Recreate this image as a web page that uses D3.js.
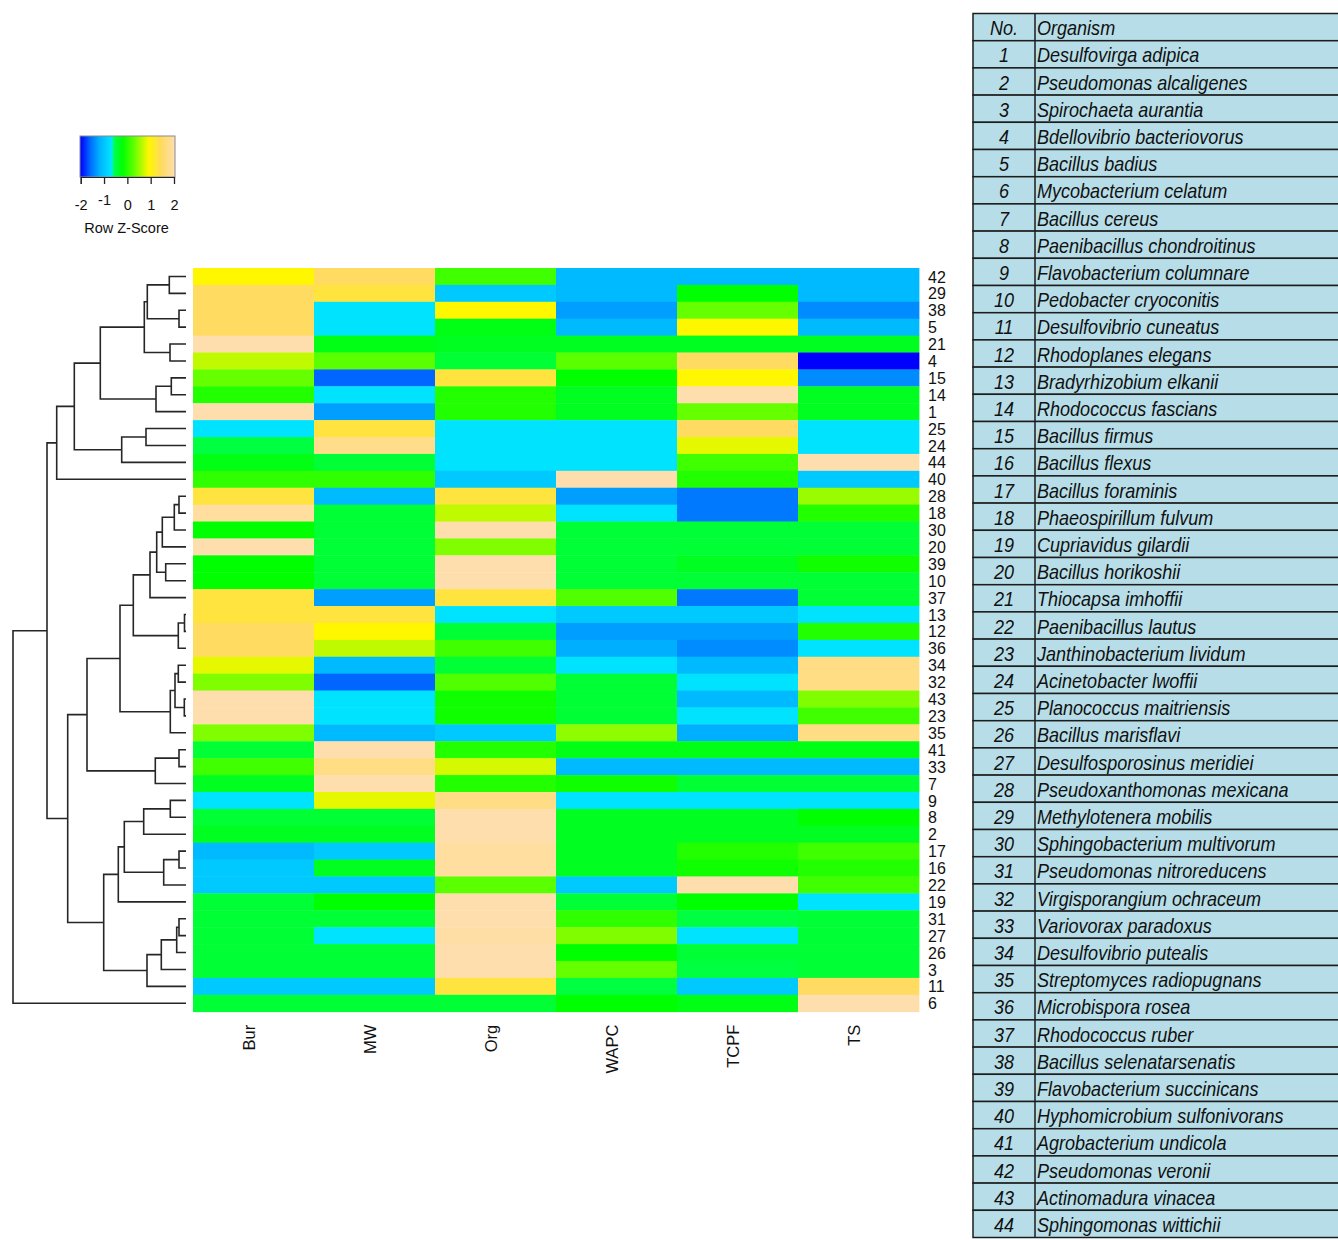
<!DOCTYPE html>
<html>
<head>
<meta charset="utf-8">
<script src="https://cdn.jsdelivr.net/npm/d3@7"></script>
<style>
  body { margin: 0; background: #fff; }
  svg { display: block; }
  text { font-family: "Liberation Sans", Arial, sans-serif; }
</style>
</head>
<body>
<svg id="chart" width="1338" height="1240"></svg>
<script>
// Measured variables (heatmap columns)
const variables = ["Bur", "MW", "Org", "WAPC", "TCPF", "TS"];

// Row z-scores per organism number (Bur, MW, Org, WAPC, TCPF, TS)
const rowIds = [42, 29, 38, 5, 21, 4, 15, 14, 1, 25, 24, 44, 40, 28, 18, 30, 20, 39, 10, 37,
                13, 12, 36, 34, 32, 43, 23, 35, 41, 33, 7, 9, 8, 2, 17, 16, 22, 19, 31, 27, 26, 3, 11, 6];
const zScores = [
  [0.9, 1.45, 0.11, -1.1, -1.1, -1.1],
  [1.45, 1.25, -0.95, -1.1, -0.2, -1.1],
  [1.45, -0.7, 0.9, -1.3, 0.3, -1.4],
  [1.45, -0.7, -0.3, -1.1, 0.9, -1.1],
  [2.0, -0.3, -0.35, -0.35, -0.35, -0.35],
  [0.65, 0.24, -0.45, 0.24, 1.45, -2.0],
  [0.3, -1.6, 1.25, -0.2, 0.9, -1.4],
  [-0.04, -0.7, -0.04, -0.35, 2.0, -0.35],
  [2.0, -1.3, -0.04, -0.35, 0.3, -0.35],
  [-0.7, 1.25, -0.7, -0.7, 1.45, -0.7],
  [-0.5, 1.75, -0.7, -0.7, 0.8, -0.7],
  [-0.3, -0.45, -0.7, -0.7, 0.11, 2.0],
  [0.03, 0.03, -0.95, 2.0, -0.04, -0.95],
  [1.25, -1.1, 1.25, -1.3, -1.5, 0.5],
  [1.9, -0.45, 0.65, -0.7, -1.5, -0.04],
  [-0.2, -0.45, 2.0, -0.45, -0.45, -0.45],
  [2.0, -0.45, 0.4, -0.45, -0.45, -0.45],
  [-0.2, -0.45, 2.0, -0.45, -0.35, -0.12],
  [-0.2, -0.45, 2.0, -0.45, -0.45, -0.45],
  [1.25, -1.3, 1.25, 0.19, -1.5, -0.45],
  [1.25, 1.25, -0.7, -0.95, -0.95, -0.7],
  [1.45, 0.9, -0.45, -1.3, -1.3, -0.04],
  [1.45, 0.65, 0.11, -1.2, -1.4, -0.7],
  [0.8, -1.1, -0.45, -0.7, -1.1, 1.7],
  [0.4, -1.6, 0.19, -0.45, -0.7, 1.7],
  [2.0, -0.7, -0.12, -0.45, -1.1, 0.4],
  [2.0, -0.7, -0.12, -0.45, -0.7, 0.11],
  [0.4, -1.1, -0.95, 0.46, -1.2, 1.7],
  [-0.45, 2.0, -0.04, -0.3, -0.3, -0.3],
  [0.11, 1.7, 0.73, -1.1, -1.1, -1.1],
  [-0.35, 2.0, -0.04, -0.12, -0.45, -0.45],
  [-0.7, 0.8, 1.7, -0.7, -0.7, -0.7],
  [-0.45, -0.45, 2.0, -0.35, -0.35, -0.2],
  [-0.35, -0.35, 2.0, -0.35, -0.35, -0.35],
  [-1.1, -0.95, 1.9, -0.35, -0.04, 0.11],
  [-0.95, -0.35, 1.9, -0.35, -0.12, -0.04],
  [-0.95, -0.95, 0.24, -0.95, 2.0, 0.11],
  [-0.45, -0.2, 2.0, -0.45, -0.2, -0.7],
  [-0.45, -0.45, 2.0, 0.03, -0.5, -0.45],
  [-0.45, -0.7, 1.95, 0.4, -0.7, -0.45],
  [-0.45, -0.45, 2.0, -0.2, -0.45, -0.45],
  [-0.45, -0.45, 2.0, 0.3, -0.5, -0.45],
  [-0.95, -0.95, 1.25, -0.5, -0.95, 1.45],
  [-0.45, -0.45, -0.45, -0.2, -0.3, 2.0]
];

// Row dendrogram: [merge height, left, right]; leaves are organism numbers
const dendrogram =
  [173,
    [139,
      [129.3,
        [111.7,
          [85.7,
            [41.7, [38.7, [16.7, 42, 29], [7, 38, 5]], [16, 21, 4]],
            [30, [14.7, 15, 14], 1]],
          [64.3, [40, 25, 24], 44]],
        40],
      [118.3,
        [99,
          [66,
            [52.7,
              [36, [29.3, [23.7, [11.7, [7, 28, 18], 30], 20], [20.3, 39, 10]], 37],
              [7.7, [1.5, 13, 12], 36]],
            [15.7, [11, [7.7, 34, 32], [1.7, 43, 23]], 35]],
          [30.7, [7, 41, 33], 7]],
        [82.3,
          [67.7,
            [61.7, [42.3, [15.7, 9, 8], 2], [22.3, [7, 17, 16], 22]],
            19],
          [39, [24.7, [9.3, [7, 31, 27], 26], 3], 11]]]],
    6];

// Colour key
const keyTicks = [-2, -1, 0, 1, 2];
const zStops = [-2, -1.6, -1.2, -0.65, -0.6, -0.2, 0.3, 0.9, 1.4, 2];
const zColors = ["#0000ff", "#0066ff", "#00b0ff", "#00e8ff", "#00ff55", "#00ff00",
                 "#66ff00", "#fff700", "#ffdb5a", "#ffdead"];

// Organism legend table
const organisms = [
  "Desulfovirga adipica", "Pseudomonas alcaligenes", "Spirochaeta aurantia",
  "Bdellovibrio bacteriovorus", "Bacillus badius", "Mycobacterium celatum",
  "Bacillus cereus", "Paenibacillus chondroitinus", "Flavobacterium columnare",
  "Pedobacter cryoconitis", "Desulfovibrio cuneatus", "Rhodoplanes elegans",
  "Bradyrhizobium elkanii", "Rhodococcus fascians", "Bacillus firmus",
  "Bacillus flexus", "Bacillus foraminis", "Phaeospirillum fulvum",
  "Cupriavidus gilardii", "Bacillus horikoshii", "Thiocapsa imhoffii",
  "Paenibacillus lautus", "Janthinobacterium lividum", "Acinetobacter lwoffii",
  "Planococcus maitriensis", "Bacillus marisflavi", "Desulfosporosinus meridiei",
  "Pseudoxanthomonas mexicana", "Methylotenera mobilis", "Sphingobacterium multivorum",
  "Pseudomonas nitroreducens", "Virgisporangium ochraceum", "Variovorax paradoxus",
  "Desulfovibrio putealis", "Streptomyces radiopugnans", "Microbispora rosea",
  "Rhodococcus ruber", "Bacillus selenatarsenatis", "Flavobacterium succinicans",
  "Hyphomicrobium sulfonivorans", "Agrobacterium undicola", "Pseudomonas veronii",
  "Actinomadura vinacea", "Sphingomonas wittichii"
];

const svg = d3.select("#chart");
const color = d3.scaleLinear().domain(zStops).range(zColors)
  .interpolate(d3.interpolateRgb).clamp(true);

// ---- heatmap ----
const hm = { left: 193, right: 919, top: 268, bottom: 1011.7 };
const root = d3.hierarchy(dendrogram, d => Array.isArray(d) ? d.slice(1) : null);
const leafOrder = root.leaves().map(l => l.data);
const x = d3.scaleBand().domain(variables).range([hm.left, hm.right]);
const y = d3.scaleBand().domain(leafOrder).range([hm.top, hm.bottom]);
const zById = new Map(rowIds.map((id, i) => [id, zScores[i]]));

const cells = [];
leafOrder.forEach(id => {
  zById.get(id).forEach((v, j) => cells.push({ id, variable: variables[j], v }));
});
svg.append("g").selectAll("rect").data(cells).join("rect")
  .attr("x", d => x(d.variable))
  .attr("y", d => y(d.id))
  .attr("width", x.bandwidth() + 0.4)
  .attr("height", y.bandwidth() + 0.4)
  .attr("fill", d => color(d.v));

// row labels
svg.append("g").selectAll("text").data(leafOrder).join("text")
  .attr("x", hm.right + 9)
  .attr("y", d => y(d) + y.bandwidth() / 2)
  .attr("dy", "0.38em")
  .attr("font-size", 16)
  .attr("fill", "#111")
  .text(d => d);

// column labels (rotated)
svg.append("g").selectAll("text").data(variables).join("text")
  .attr("transform", d => `translate(${x(d) + x.bandwidth() / 2 + 1},${hm.bottom + 13}) rotate(-90)`)
  .attr("text-anchor", "end")
  .attr("font-size", 16.5)
  .attr("fill", "#111")
  .text(d => d);

// ---- dendrogram ----
const xH = d3.scaleLinear().domain([0, 173]).range([186, 13]);
root.eachAfter(n => {
  n.h = n.children ? n.data[0] : 0;
  n.yy = n.children
    ? (n.children[0].yy + n.children[n.children.length - 1].yy) / 2
    : y(n.data) + y.bandwidth() / 2;
});
const links = root.descendants().filter(n => n.children);
svg.append("g")
  .attr("fill", "none")
  .attr("stroke", "#262626")
  .attr("stroke-width", 1.6)
  .selectAll("path").data(links).join("path")
  .attr("d", n => {
    const [a, b] = n.children;
    const xn = xH(n.h);
    return `M${xH(a.h)},${a.yy}H${xn}V${b.yy}H${xH(b.h)}`;
  });

// ---- colour key ----
const key = { left: 80, right: 175, top: 136, bottom: 177 };
const kx = d3.scaleLinear().domain([-2, 2]).range([80.7, 174]);
const grad = svg.append("defs").append("linearGradient").attr("id", "zkey");
d3.range(0, 1.0001, 0.01).forEach(t => {
  grad.append("stop").attr("offset", t)
    .attr("stop-color", color(-2.02 + t * 4.04));
});
svg.append("rect")
  .attr("x", key.left).attr("y", key.top)
  .attr("width", key.right - key.left).attr("height", key.bottom - key.top)
  .attr("fill", "url(#zkey)")
  .attr("stroke", "#8a8a8a").attr("stroke-width", 1);

const keyAxis = svg.append("g")
  .attr("transform", `translate(0,${key.bottom})`)
  .call(d3.axisBottom(kx).tickValues(keyTicks).tickSize(7).tickPadding(16)
    .tickFormat(d => String(d)));
keyAxis.select(".domain").attr("stroke", "#222");
keyAxis.selectAll(".tick line").attr("stroke", "#222").attr("stroke-width", 1.3);
keyAxis.selectAll(".tick text")
  .attr("font-family", "Liberation Sans, Arial, sans-serif")
  .attr("font-size", 14.5)
  .attr("fill", "#111")
  .attr("dy", d => d === -1 ? "0.35em" : "0.71em");
svg.append("text")
  .attr("x", (key.left + key.right) / 2 - 1)
  .attr("y", 233)
  .attr("text-anchor", "middle")
  .attr("font-size", 14.5)
  .attr("fill", "#111")
  .text("Row Z-Score");

// ---- organism table ----
const tbl = { left: 973, split: 1035, right: 1345, top: 13.5, rowH: 27.2 };
const tableRows = [{ no: "No.", name: "Organism" }]
  .concat(organisms.map((name, i) => ({ no: String(i + 1), name })));
const tg = svg.append("g");
tg.selectAll("rect").data(tableRows).join("rect")
  .attr("x", tbl.left)
  .attr("y", (d, i) => tbl.top + i * tbl.rowH)
  .attr("width", tbl.right - tbl.left)
  .attr("height", tbl.rowH)
  .attr("fill", "#b7dee8")
  .attr("stroke", "#1c1c1c")
  .attr("stroke-width", 1.5);
tg.append("line")
  .attr("x1", tbl.split).attr("x2", tbl.split)
  .attr("y1", tbl.top).attr("y2", tbl.top + tableRows.length * tbl.rowH)
  .attr("stroke", "#1c1c1c").attr("stroke-width", 1.5);
const rowText = tg.selectAll("g.row").data(tableRows).join("g")
  .attr("class", "row")
  .attr("transform", (d, i) => `translate(0,${tbl.top + i * tbl.rowH + tbl.rowH / 2 + 8})`);
rowText.append("text")
  .attr("transform", `translate(${(tbl.left + tbl.split) / 2},0) scale(0.88,1)`)
  .attr("text-anchor", "middle")
  .attr("font-size", 20.5)
  .attr("font-style", "italic")
  .attr("fill", "#111")
  .text(d => d.no);
rowText.append("text")
  .attr("transform", `translate(${tbl.split + 2},0) scale(0.88,1)`)
  .attr("font-size", 20.5)
  .attr("font-style", "italic")
  .attr("fill", "#111")
  .text(d => d.name);
</script>
</body>
</html>
